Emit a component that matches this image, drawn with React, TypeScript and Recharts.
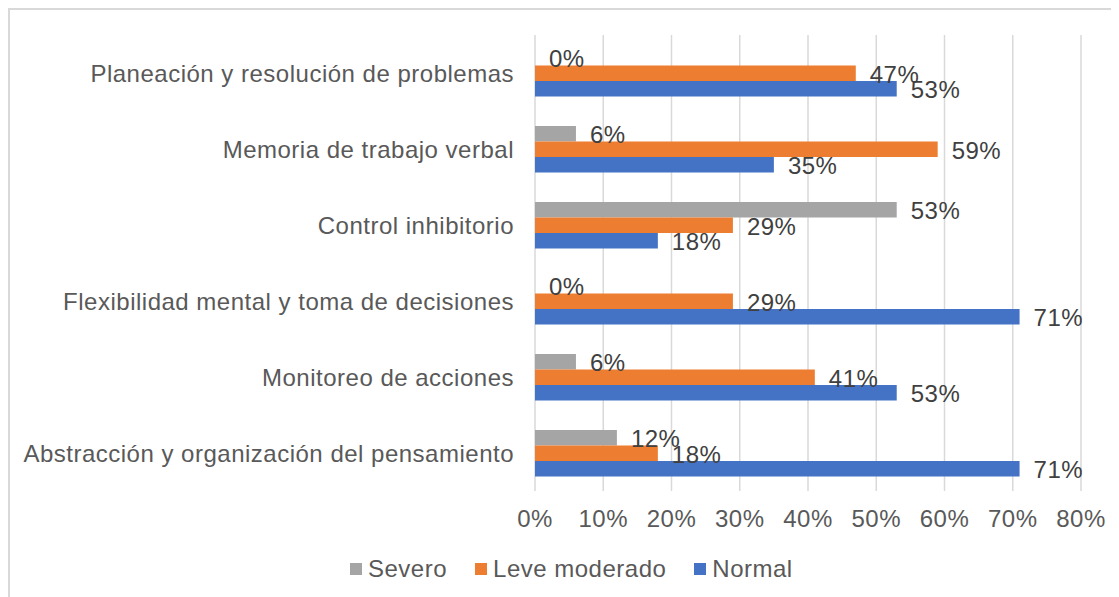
import React from 'react';
import { BarChart, Bar, XAxis, YAxis, CartesianGrid, LabelList, Legend } from 'recharts';

const categories = [
  'Planeación y resolución de problemas',
  'Memoria de trabajo verbal',
  'Control inhibitorio',
  'Flexibilidad mental y toma de decisiones',
  'Monitoreo de acciones',
  'Abstracción y organización del pensamiento',
];
const severo = [0, 6, 53, 0, 6, 12];
const leveModerado = [47, 59, 29, 29, 41, 18];
const normal = [53, 35, 18, 71, 53, 71];
const xTicks = [0, 10, 20, 30, 40, 50, 60, 70, 80];

const seriesOrder = ['Severo', 'Leve moderado', 'Normal'];
const colors = { severo: '#a5a5a5', leve: '#ed7d31', normal: '#4472c4' };

const data = categories.map((c, i) => ({
  name: c,
  severo: severo[i],
  leve: leveModerado[i],
  normal: normal[i],
}));

const FONT = '"Liberation Sans", Arial, sans-serif';
const LS = 0.5;
const fmt = (v: number) => `${v}%`;

const LegendContent = (props: any) => {
  const payload = [...(props.payload || [])].sort(
    (a: any, b: any) => seriesOrder.indexOf(a.value) - seriesOrder.indexOf(b.value)
  );
  return (
    <div style={{ display: 'flex', flexDirection: 'row', alignItems: 'center', fontFamily: FONT, fontSize: 24, letterSpacing: LS, color: '#595959', lineHeight: '28px', whiteSpace: 'nowrap' }}>
      {payload.map((p: any, i: number) => (
        <div key={i} style={{ display: 'flex', alignItems: 'center', marginRight: i < payload.length - 1 ? 28 : 0 }}>
          <span style={{ display: 'inline-block', width: 12, height: 12, background: p.color, marginRight: 6 }} />
          <span>{p.value}</span>
        </div>
      ))}
    </div>
  );
};

const labelProps = { position: 'right' as const, offset: 14, formatter: fmt as any, fill: '#404040', fontSize: 24, fontFamily: FONT, letterSpacing: LS, dy: 1 };

export default function App() {
  return (
    <div style={{ width: 1111, height: 589, borderTop: '2px solid #d9d9d9', borderLeft: '2px solid #d9d9d9', boxSizing: 'border-box', background: '#fff', position: 'relative' }}>
      <BarChart
        width={1109}
        height={587}
        data={data}
        layout="vertical"
        margin={{ top: 25, right: 38, left: 0, bottom: 76 }}
        barGap={0}
        style={{ fontFamily: FONT }}
      >
        <CartesianGrid horizontal={false} vertical={true} stroke="#d9d9d9" strokeWidth={1.5} />
        <XAxis
          type="number"
          domain={[0, 80]}
          ticks={xTicks}
          tickFormatter={fmt}
          axisLine={false}
          tickLine={false}
          tickSize={0}
          tickMargin={19}
          tick={{ fill: '#595959', fontSize: 24, fontFamily: FONT, letterSpacing: LS }}
          interval={0}
        />
        <YAxis
          type="category"
          dataKey="name"
          width={525}
          axisLine={false}
          tickLine={false}
          tickSize={0}
          tickMargin={21}
          tick={{ fill: '#595959', fontSize: 24, fontFamily: FONT, letterSpacing: LS }}
          interval={0}
        />
        <Legend
          layout="horizontal"
          verticalAlign="middle"
          align="center"
          content={<LegendContent />}
          wrapperStyle={{ left: 340, top: 545, width: 'auto' }}
        />
        <Bar dataKey="severo" name="Severo" fill={colors.severo} barSize={15.5} minPointSize={0.01} isAnimationActive={false}>
          <LabelList dataKey="severo" {...labelProps} />
        </Bar>
        <Bar dataKey="leve" name="Leve moderado" fill={colors.leve} barSize={15.5} isAnimationActive={false}>
          <LabelList dataKey="leve" {...labelProps} />
        </Bar>
        <Bar dataKey="normal" name="Normal" fill={colors.normal} barSize={15.5} isAnimationActive={false}>
          <LabelList dataKey="normal" {...labelProps} />
        </Bar>
      </BarChart>
    </div>
  );
}
